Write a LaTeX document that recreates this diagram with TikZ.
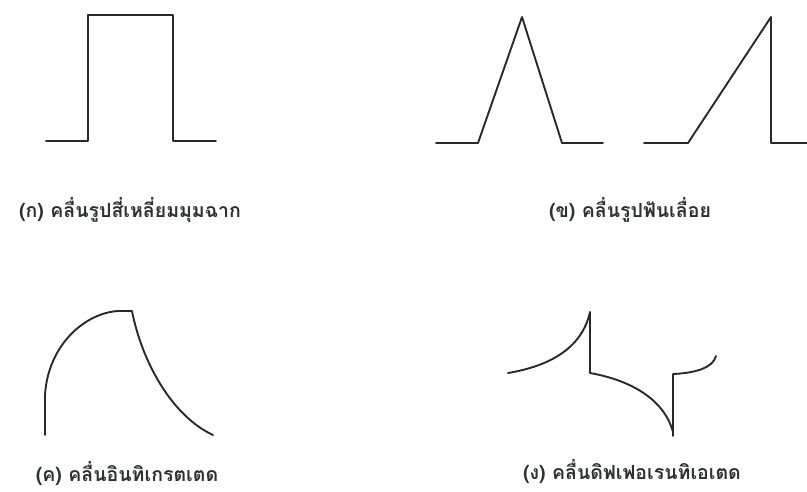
\documentclass[tikz,border=0pt]{standalone}
\usepackage{fontspec}
\usepackage{xcolor}
\usepackage{tikz}
\usetikzlibrary{positioning,calc}
\newfontfamily\thaifont[Script=Thai]{Loma}
\definecolor{ink}{RGB}{40,42,40}
\definecolor{labeltext}{RGB}{45,50,48}
\tikzset{
    wave/.style={draw=ink, line width=1.9pt, line join=round, line cap=round},
    caption/.style={font=\thaifont\fontsize{19.5}{22}\selectfont\bfseries, text=labeltext, inner sep=0pt, anchor=base}
}
\begin{document}
\begin{tikzpicture}[x=1pt,y=-1pt]
\useasboundingbox (0,0) rectangle (807,491);
% square pulse
\draw[wave] (46,141) -- (88,141) -- (88,15) -- (173,15) -- (173,141) -- (216,141);
\node[caption] (sqlabel) at (130,217) {(ก) คลื่นรูปสี่เหลี่ยมมุมฉาก};
% triangle and sawtooth
\draw[wave] (436,143) -- (478,143) -- (522,17) -- (562,143) -- (603,143);
\draw[wave] (644,143) -- (688,143) -- (771,17) -- (771,143) -- (807,143);
\node[caption] (sawlabel) at (630,217) {(ข) คลื่นรูปฟันเลื่อย};
% integrated
\draw[wave] (45,435) -- (45,395) .. controls (48,345) and (85,313) .. (118,311) -- (132,311)
    .. controls (142,362) and (172,416) .. (213,435);
\node[caption] (intlabel) at (127,481) {(ค) คลื่นอินทิเกรตเตด};
% differentiated
\draw[wave] (508,373) .. controls (550,366) and (582,348) .. (590,312) -- (590,373)
    .. controls (635,381) and (665,402) .. (673,432) -- (673,436) -- (673,374)
    .. controls (695,373) and (713,368) .. (716,356);
\node[caption] (diflabel) at (632,479) {(ง) คลื่นดิฟเฟอเรนทิเอเตด};
\end{tikzpicture}
\end{document}
